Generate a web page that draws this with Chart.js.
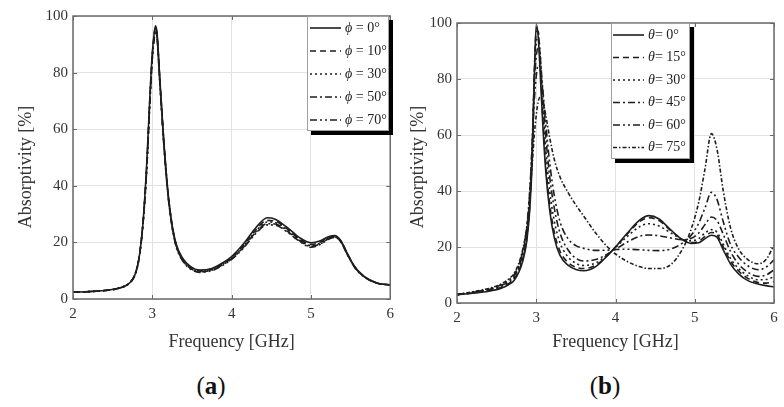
<!DOCTYPE html>
<html>
<head>
<meta charset="utf-8">
<script src="https://cdn.jsdelivr.net/npm/chart.js@4"></script>
<style>
  body{margin:0;background:#fff;width:784px;height:407px;overflow:hidden;position:relative;font-family:'Liberation Serif',serif;}
  canvas{position:absolute;top:0;}
  #cA{left:0;}
  #cB{left:384px;}
  .ytitle{position:absolute;width:200px;text-align:center;font-size:18px;line-height:20px;transform:rotate(-90deg);color:#333;white-space:nowrap;}
  .cap{position:absolute;top:372px;width:60px;text-align:center;font-size:25px;line-height:28px;color:#111;}
  .cap b{font-weight:bold;}
</style>
</head>
<body>
<canvas id="cA" width="400" height="360" style="width:400px;height:360px"></canvas>
<canvas id="cB" width="400" height="360" style="width:400px;height:360px"></canvas>
<div class="ytitle" style="left:-75px;top:157px;">Absorptivity [%]</div>
<div class="ytitle" style="left:317px;top:157px;">Absorptivity [%]</div>
<div class="cap" style="left:181px;">(<b>a</b>)</div>
<div class="cap" style="left:575px;">(<b>b</b>)</div>
<script>
// ---------- Data ----------
const xTicks = [2, 3, 4, 5, 6];
const yTicks = [0, 20, 40, 60, 80, 100];

// Panel (a): frequency grid [GHz]
const freqA = [2.0, 2.2, 2.4, 2.55, 2.65, 2.72, 2.78, 2.83, 2.88, 2.93, 2.97, 3.0, 3.02, 3.04, 3.06, 3.09, 3.14, 3.19, 3.24, 3.3, 3.38, 3.48, 3.6, 3.75, 3.9, 4.0, 4.15, 4.3, 4.45, 4.55, 4.7, 4.85, 5.0, 5.12, 5.22, 5.3, 5.38, 5.46, 5.55, 5.67, 5.84, 6.0];
const labelsA = ['ϕ = 0°', 'ϕ = 10°', 'ϕ = 30°', 'ϕ = 50°', 'ϕ = 70°'];
const phi0  = [2.4, 2.6, 3.0, 3.6, 4.5, 5.8, 8.5, 14, 26, 48, 72, 87, 93, 96.5, 94, 80, 58, 40, 28, 19.5, 14.5, 11.5, 10.2, 10.8, 13, 15, 19.5, 25, 28.7, 28.2, 25.3, 21.8, 19.9, 20.6, 22, 22.4, 20.5, 16, 11.5, 8, 5.6, 5.0];
const phi10 = [2.4, 2.6, 3.0, 3.6, 4.5, 5.8, 8.5, 14, 26, 47, 71, 86, 92.5, 96, 93.5, 80, 58, 40, 28, 19.3, 14.2, 11.2, 10.0, 10.6, 12.7, 14.7, 19, 24.3, 27.8, 27.5, 24.8, 21.3, 19.3, 20.1, 21.7, 22.2, 20.4, 16, 11.5, 8, 5.6, 5.0];
const phi30 = [2.4, 2.6, 3.0, 3.6, 4.5, 5.8, 8.5, 14, 26, 47, 71, 86, 92, 95.5, 93, 79, 57, 39.5, 27.5, 19, 14, 11, 9.8, 10.4, 12.5, 14.4, 18.6, 23.8, 27.2, 27, 24.4, 21, 18.9, 19.8, 21.5, 22, 20.2, 15.8, 11.4, 7.9, 5.6, 5.0];
const phi50 = [2.4, 2.6, 3.0, 3.6, 4.5, 5.8, 8.5, 14, 26, 46, 70, 85, 91.5, 95, 92.5, 79, 57, 39, 27.3, 18.8, 13.8, 10.8, 9.6, 10.2, 12.3, 14.2, 18.3, 23.4, 26.6, 26.5, 24, 20.7, 18.6, 19.5, 21.3, 21.9, 20.1, 15.7, 11.3, 7.9, 5.6, 5.0];
const phi70 = [2.4, 2.6, 3.0, 3.6, 4.5, 5.8, 8.5, 14, 25.5, 46, 70, 85, 91, 94.5, 92, 78.5, 56.5, 39, 27, 18.6, 13.6, 10.6, 9.4, 10.0, 12.1, 14.0, 18.0, 23.0, 26.2, 26.1, 23.7, 20.5, 18.3, 19.3, 21.1, 21.8, 20.0, 15.6, 11.2, 7.8, 5.5, 5.0];

// Panel (b): frequency grid [GHz]
const freqB = [2.0, 2.2, 2.4, 2.55, 2.65, 2.72, 2.78, 2.83, 2.88, 2.92, 2.95, 2.975, 3.0, 3.025, 3.05, 3.08, 3.12, 3.17, 3.23, 3.3, 3.4, 3.5, 3.6, 3.75, 3.9, 4.0, 4.15, 4.3, 4.42, 4.55, 4.7, 4.85, 4.95, 5.05, 5.13, 5.21, 5.28, 5.36, 5.45, 5.55, 5.67, 5.8, 5.9, 6.0];
const labelsB = ['θ= 0°', 'θ= 15°', 'θ= 30°', 'θ= 45°', 'θ= 60°', 'θ= 75°'];
const th0  = [3.0, 3.5, 4.2, 5.2, 6.5, 8, 11, 15, 22, 34, 52, 80, 99.5, 95, 82, 65, 47, 33, 23, 17, 13.5, 12, 11.5, 13, 17, 20, 25, 29.5, 31.2, 30, 26, 22.5, 21.3, 21.5, 23, 24.2, 23.5, 19, 14, 10.5, 8, 6.8, 6.2, 5.7];
const th15 = [3.0, 3.6, 4.4, 5.5, 6.9, 8.5, 11.6, 15.8, 23, 36, 55, 82, 97, 97, 86, 68, 50, 35.5, 25, 18.5, 14.5, 12.8, 12.3, 13.5, 17, 20, 24.7, 29, 30.5, 29.4, 25.8, 22.6, 21.6, 22, 23.8, 25.2, 24.4, 20, 15, 11.5, 8.8, 7.3, 7.1, 7.6];
const th30 = [3.0, 3.7, 4.6, 5.8, 7.3, 9, 12.3, 16.8, 24.5, 38, 57, 81, 93, 95, 89, 72, 55, 40, 29, 21.5, 16.5, 14.2, 13.4, 14.3, 17.3, 19.8, 23.8, 27.2, 28.3, 27.5, 25, 22.7, 22.2, 23, 25, 26.2, 25.3, 21, 16, 12.4, 9.7, 8.3, 8.4, 9.4];
const th45 = [3.0, 3.8, 4.8, 6.1, 7.7, 9.6, 13, 17.8, 26, 40, 58, 78, 88, 91, 88, 76, 60, 45, 33.5, 25, 19, 16, 15, 15.5, 17.5, 19.2, 21.8, 23.8, 24.3, 24, 23.2, 22.6, 23, 25, 28, 30.7, 29.5, 24.5, 18.5, 14, 11, 9.5, 10, 11.8];
const th60 = [3.0, 3.9, 5.0, 6.4, 8.1, 10.1, 13.6, 18.6, 27, 41, 57, 72, 81, 85, 84, 77, 64, 50, 38, 29, 23, 20.5, 19.5, 18.8, 18.9, 19.1, 19.2, 19, 18.8, 18.7, 19.3, 21.5, 24, 28.5, 34, 39.5, 37, 29, 21, 16.5, 13.3, 11.9, 12.8, 15.4];
const th75 = [3.0, 4.0, 5.2, 6.7, 8.5, 10.6, 14.2, 19.2, 27, 38, 50, 60, 67, 72, 73.5, 72.5, 67, 59, 51, 45, 39.5, 35, 31, 25, 20, 17.5, 14.8, 13, 12.3, 12.3, 13.8, 19.5, 26, 36, 48, 60.5, 55, 40, 27, 19.5, 15.5, 14, 15.5, 20.7];

// ---------- Styles ----------
const LINE = '#1e1e1e';
const dashA = [[], [6, 4], [2, 3], [7, 3, 2, 3], [7, 3, 2, 3, 2, 3]];
const dashB = [[], [6, 4], [2, 3], [7, 3, 2, 3], [7, 3, 2, 3, 2, 3], [4, 2, 1.5, 2]];
const FONT = "'Liberation Serif', 'DejaVu Serif', serif";

function pts(xs, ys) { return xs.map((x, i) => ({ x: x, y: ys[i] })); }

const framePlugin = {
  id: 'frameTicks',
  afterDatasetsDraw(chart) {
    const { ctx, chartArea: a, scales } = chart;
    const x = scales.x, y = scales.y;
    ctx.save();
    ctx.strokeStyle = '#6a6a6a';
    ctx.lineWidth = 1.5;
    ctx.setLineDash([]);
    ctx.strokeRect(a.left, a.top, a.right - a.left, a.bottom - a.top);
    ctx.lineWidth = 1;
    ctx.beginPath();
    x.ticks.forEach(t => {
      const px = Math.round(x.getPixelForValue(t.value)) + 0.5;
      ctx.moveTo(px, a.bottom); ctx.lineTo(px, a.bottom - 4);
      ctx.moveTo(px, a.top); ctx.lineTo(px, a.top + 4);
    });
    y.ticks.forEach(t => {
      const py = Math.round(y.getPixelForValue(t.value)) + 0.5;
      ctx.moveTo(a.left, py); ctx.lineTo(a.left + 4, py);
      ctx.moveTo(a.right, py); ctx.lineTo(a.right - 4, py);
    });
    ctx.stroke();
    ctx.restore();
  }
};

const boxLegend = {
  id: 'boxLegend',
  afterDatasetsDraw(chart, args, o) {
    const ctx = chart.ctx;
    ctx.save();
    ctx.fillStyle = '#000';
    ctx.fillRect(o.left + o.shadow, o.top + o.shadow, o.width, o.height);
    ctx.fillStyle = '#fff';
    ctx.fillRect(o.left, o.top, o.width, o.height);
    ctx.strokeStyle = '#a0a0a0';
    ctx.lineWidth = 1;
    ctx.strokeRect(o.left + 0.5, o.top + 0.5, o.width - 1, o.height - 1);
    chart.data.datasets.forEach((ds, i) => {
      const yy = o.top + o.first + i * o.gap;
      ctx.strokeStyle = ds.borderColor;
      ctx.lineWidth = ds.borderWidth;
      ctx.setLineDash(ds.borderDash || []);
      ctx.beginPath();
      ctx.moveTo(o.left + o.lineStart, yy);
      ctx.lineTo(o.left + o.lineEnd, yy);
      ctx.stroke();
      ctx.setLineDash([]);
      ctx.fillStyle = '#222';
      ctx.textBaseline = 'middle';
      ctx.textAlign = 'left';
      const sym = ds.label.charAt(0), rest = ds.label.slice(1);
      let tx = o.left + o.textStart;
      ctx.font = 'italic 14px ' + FONT;
      ctx.fillText(sym, tx, yy);
      tx += ctx.measureText(sym).width;
      ctx.font = '14px ' + FONT;
      ctx.fillText(rest, tx, yy);
    });
    ctx.restore();
  }
};

function makeChart(id, freq, series, labels, dashes, pad, xH, legend) {
  return new Chart(document.getElementById(id), {
    type: 'line',
    data: {
      datasets: series.map((s, i) => ({
        label: labels[i],
        data: pts(freq, s),
        borderColor: LINE,
        borderWidth: 1.6,
        borderDash: dashes[i],
        pointRadius: 0,
        fill: false,
        cubicInterpolationMode: 'monotone'
      }))
    },
    options: {
      responsive: false,
      animation: false,
      devicePixelRatio: 1,
      layout: { padding: pad },
      plugins: {
        legend: { display: false },
        tooltip: { enabled: false },
        boxLegend: legend
      },
      scales: {
        x: {
          type: 'linear', min: xTicks[0], max: xTicks[xTicks.length - 1],
          afterBuildTicks: s => { s.ticks = xTicks.map(v => ({ value: v })); },
          afterFit: s => { s.height = xH; },
          ticks: { font: { family: FONT, size: 15 }, color: '#333', padding: 6, maxRotation: 0 },
          grid: { color: '#e2e2e2', drawTicks: false },
          border: { display: false },
          title: { display: true, text: 'Frequency [GHz]', color: '#333', font: { family: FONT, size: 18 }, padding: { top: 0, bottom: 7 } }
        },
        y: {
          type: 'linear', min: yTicks[0], max: yTicks[yTicks.length - 1],
          afterBuildTicks: s => { s.ticks = yTicks.map(v => ({ value: v })); },
          afterFit: s => { s.width = 73; },
          ticks: { font: { family: FONT, size: 15 }, color: '#333', padding: 5 },
          grid: { color: '#e2e2e2', drawTicks: false },
          border: { display: false }
        }
      }
    },
    plugins: [framePlugin, boxLegend]
  });
}

makeChart('cA', freqA, [phi0, phi10, phi30, phi50, phi70], labelsA, dashA,
  { left: 0, top: 16, right: 7, bottom: 0 }, 61,
  { left: 307, top: 16, width: 82, height: 115, shadow: 4, first: 12, gap: 23, lineStart: 3, lineEnd: 34, textStart: 38 });

makeChart('cB', freqB, [th0, th15, th30, th45, th60, th75], labelsB, dashB,
  { left: 0, top: 23, right: 10, bottom: 0 }, 57,
  { left: 227, top: 23, width: 79, height: 136, shadow: 4, first: 12, gap: 22.5, lineStart: 2, lineEnd: 33, textStart: 37 });
</script>
</body>
</html>
